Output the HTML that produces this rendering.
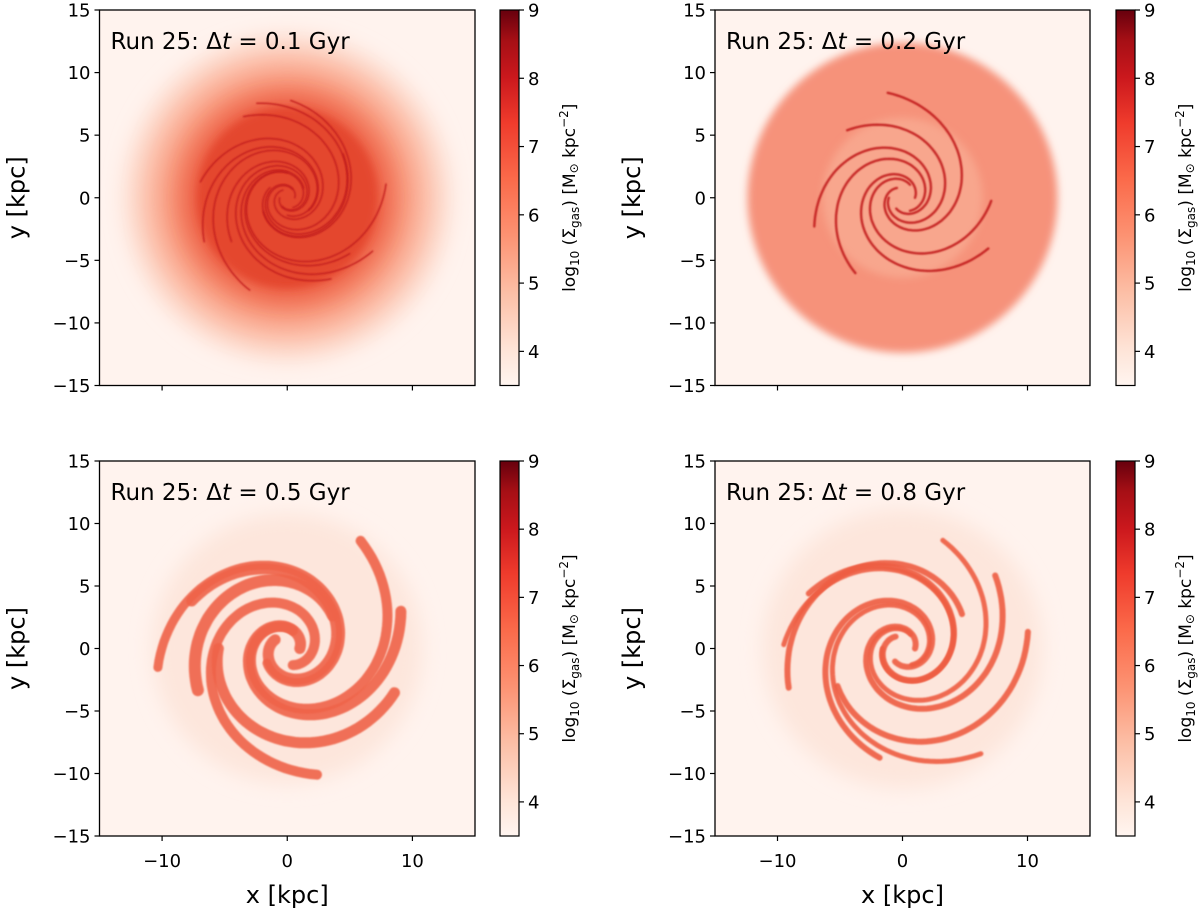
<!DOCTYPE html>
<html><head><meta charset="utf-8">
<style>
html,body{margin:0;padding:0;background:#fff;}
svg{display:block;font-family:"DejaVu Sans","Liberation Sans",sans-serif;}
</style></head>
<body>
<svg id="fig" width="1200" height="912" viewBox="0 0 1200 912" xmlns="http://www.w3.org/2000/svg">
<defs>
<linearGradient id="cmap" x1="0" y1="1" x2="0" y2="0">
<stop offset="0" stop-color="#fff5f0"/>
<stop offset="0.1" stop-color="#fee3d6"/>
<stop offset="0.25" stop-color="#fcbea5"/>
<stop offset="0.4" stop-color="#fc9272"/>
<stop offset="0.55" stop-color="#fb6a4a"/>
<stop offset="0.7" stop-color="#ef3b2c"/>
<stop offset="0.82" stop-color="#cb181d"/>
<stop offset="0.92" stop-color="#a50f15"/>
<stop offset="1" stop-color="#67000d"/>
</linearGradient>
<filter id="soft" x="-30%" y="-30%" width="160%" height="160%"><feGaussianBlur stdDeviation="10"/></filter>
<filter id="soft2" x="-20%" y="-20%" width="140%" height="140%"><feGaussianBlur stdDeviation="4"/></filter>
<filter id="soft1" x="-20%" y="-20%" width="140%" height="140%"><feGaussianBlur stdDeviation="0.8"/></filter>
</defs>
</svg>
<script>
// axis data
const xTicks = [-10, 0, 10];
const yTicks = [-15, -10, -5, 0, 5, 10, 15];
const cbTicks = [4, 5, 6, 7, 8, 9];
const cbMin = 3.5, cbMax = 9;
const titles = ["0.1", "0.2", "0.5", "0.8"];
// disk layers per panel: radius (kpc), colour
const diskRadius = [[13.0, 11.4, 9.6, 8.0, 7.2], [12.4, 6.4], [10.8], [11.2]];
const diskColor = [["#fdd9cb", "#fbb39b", "#f5876a", "#ec5a3f", "#e4462f"], ["#f6927a", "#f8a68d"], ["#fde6dc"], ["#fde6dc"]];
// spiral arms per panel: phase (deg), start radius, angular span (deg), pitch, width (px), colour
const armPhase = [[0,30,60,90,120,150,180,210,240,270,300,330], [0,60,120,180,240,300], [0,72,144,216,288,36,180], [0,60,120,180,240,300,30,210]];
const armR0 = [[0.6,1.5,0.8,2,0.7,1.6,0.6,2.2,0.8,1.4,0.9,2], [1,1.2,0.9,1.1,1,1.2], [1,1.5,1.2,2,1.4,4.5,5.5], [1,1.3,1.1,1.6,1.2,1.5,5.5,6]];
const armSpan = [[400,300,420,280,410,300,400,260,420,300,380,280], [330,300,340,310,320,300], [380,360,370,340,360,170,160], [400,370,390,360,380,370,170,160]];
const armPitch = [[0.17,0.17,0.16,0.15,0.17,0.16,0.17,0.15,0.16,0.17,0.16,0.15], [0.19,0.18,0.2,0.18,0.19,0.18], [0.18,0.17,0.16,0.15,0.17,0.1,0.1], [0.17,0.16,0.16,0.15,0.16,0.16,0.1,0.1]];
const armWidth = [[1.5,1.5,1.5,1.5,1.5,1.5,1.5,1.5,1.5,1.5,1.5,1.5], [2.4,2.4,2.4,2.4,2.4,2.4], [11,10,11,9,10,12,11], [6,5,6,5,6,5,6,6]];
const armColor = ["#c21c1f", "#c21d1f", "#ef6449", "#ee5d42"];

const NS = "http://www.w3.org/2000/svg";
const svg = document.getElementById('fig');
const panels = [
  {x0:99.5, x1:475, y0:10, y1:385.5, cb:500, xlab:false},
  {x0:715, x1:1090, y0:10, y1:385.5, cb:1116, xlab:false},
  {x0:99.5, x1:475, y0:461, y1:836, cb:500, xlab:true},
  {x0:715, x1:1090, y0:461, y1:836, cb:1116, xlab:true}
];
function mk(tag, attrs, parent){
  const e = document.createElementNS(NS, tag);
  for (const k in attrs) e.setAttribute(k, attrs[k]);
  (parent||svg).appendChild(e);
  return e;
}
panels.forEach((p, i) => {
  const sx = v => p.x0 + (v + 15) / 30 * (p.x1 - p.x0);
  const sy = v => p.y1 - (v + 15) / 30 * (p.y1 - p.y0);
  const kpc = (p.x1 - p.x0) / 30;
  const g = mk('g', {});
  
  
  const cp = mk('clipPath', {id:'clip'+i}, g);
  mk('rect', {x:p.x0, y:p.y0, width:p.x1-p.x0, height:p.y1-p.y0}, cp);
  const img = mk('g', {'clip-path':'url(#clip'+i+')'}, g);
  
  
  mk('rect', {x:p.x0, y:p.y0, width:p.x1-p.x0, height:p.y1-p.y0, fill:'#fff3ee'}, img);
  diskRadius[i].forEach((r, j) => {
    const last = j === diskRadius[i].length - 1;
    const c = mk('circle', {cx:sx(0), cy:sy(0), r:r*kpc, fill:diskColor[i][j], filter: (i===1 && j===0) ? 'url(#soft2)' : (last && i<2 ? 'url(#soft2)' : 'url(#soft)')}, img);
    
    
  });
  armPhase[i].forEach((ph, j) => {
    let d = '';
    const span = armSpan[i][j] * Math.PI / 180;
    for (let t = 0; t <= span; t += 0.05) {
      const r = armR0[i][j] * Math.exp(armPitch[i][j] * t * 1.9);
      if (r > 10.5) break;
      const a = ph * Math.PI / 180 + t;
      d += (d ? 'L' : 'M') + sx(r*Math.cos(a)).toFixed(1) + ' ' + sy(r*Math.sin(a)).toFixed(1);
    }
    const arm = mk('path', {d:d, fill:'none', stroke:armColor[i], 'stroke-width':armWidth[i][j], 'stroke-linecap':'round', filter:'url(#soft1)', opacity:0.9}, img);
    
    
  });
  const frame = mk('rect', {x:p.x0, y:p.y0, width:p.x1-p.x0, height:p.y1-p.y0, fill:'none', stroke:'#000', 'stroke-width':1.3}, g);
  
  
  const t = mk('text', {x:p.x0+11, y:p.y0+39, 'font-size':23, fill:'#000'}, g);
  
  
  t.innerHTML = 'Run 25: Δ<tspan font-style="italic">t</tspan> = ' + titles[i] + ' Gyr';
  yTicks.forEach(v => {
    mk('line', {x1:p.x0-5, x2:p.x0, y1:sy(v), y2:sy(v), stroke:'#000', 'stroke-width':1.2}, g);
    const tl = mk('text', {x:p.x0-9, y:sy(v)+6.5, 'font-size':18, 'text-anchor':'end'}, g);
    
    
    tl.textContent = (v < 0 ? '\u2212' : '') + Math.abs(v);
  });
  xTicks.forEach(v => {
    mk('line', {x1:sx(v), x2:sx(v), y1:p.y1, y2:p.y1+5, stroke:'#000', 'stroke-width':1.2}, g);
    if (p.xlab) {
      const tl = mk('text', {x:sx(v), y:p.y1+31, 'font-size':18, 'text-anchor':'middle'}, g);
      
      
      tl.textContent = (v < 0 ? '\u2212' : '') + Math.abs(v);
    }
  });
  const yl = mk('text', {x:0, y:0, 'font-size':24, 'text-anchor':'middle', transform:'translate('+(p.x0-75)+','+((p.y0+p.y1)/2)+') rotate(-90)'}, g);
  
  
  yl.textContent = 'y [kpc]';
  if (p.xlab) {
    const xl = mk('text', {x:(p.x0+p.x1)/2, y:p.y1+67, 'font-size':24, 'text-anchor':'middle'}, g);
    
    
    xl.textContent = 'x [kpc]';
  }
  // colorbar
  const cy = v => p.y1 - (v - cbMin) / (cbMax - cbMin) * (p.y1 - p.y0);
  const cb = mk('rect', {x:p.cb, y:p.y0, width:19, height:p.y1-p.y0, fill:'url(#cmap)', stroke:'#000', 'stroke-width':1.2}, g);
  
  
  cbTicks.forEach(v => {
    mk('line', {x1:p.cb+19, x2:p.cb+24, y1:cy(v), y2:cy(v), stroke:'#000', 'stroke-width':1.2}, g);
    const tl = mk('text', {x:p.cb+28, y:cy(v)+6.5, 'font-size':18}, g);
    
    
    tl.textContent = v;
  });
  const cl = mk('text', {x:0, y:0, 'font-size':17, 'text-anchor':'middle', transform:'translate('+(p.cb+75)+','+((p.y0+p.y1)/2)+') rotate(-90)'}, g);
  
  
  cl.innerHTML = 'log<tspan font-size="12" dy="4">10</tspan><tspan dy="-4"> (Σ</tspan><tspan font-size="12" dy="4">gas</tspan><tspan dy="-4">) [M</tspan><tspan font-size="12" dy="3">⊙</tspan><tspan dy="-3"> kpc</tspan><tspan font-size="12" dy="-7">−2</tspan><tspan dy="7">]</tspan>';
});
</script>
</body></html>
